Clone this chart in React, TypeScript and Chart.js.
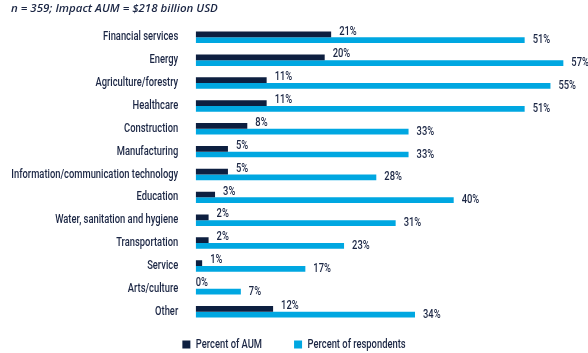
import React, { useEffect, useRef } from "react";
import { Chart, registerables } from "chart.js";

Chart.register(...registerables);

const categories = [
  "Financial services",
  "Energy",
  "Agriculture/forestry",
  "Healthcare",
  "Construction",
  "Manufacturing",
  "Information/communication technology",
  "Education",
  "Water, sanitation and hygiene",
  "Transportation",
  "Service",
  "Arts/culture",
  "Other",
];
const aumValues = [21, 20, 11, 11, 8, 5, 5, 3, 2, 2, 1, 0, 12];
const respondentValues = [51, 57, 55, 51, 33, 33, 28, 40, 31, 23, 17, 7, 34];
const seriesLabels = ["Percent of AUM", "Percent of respondents"];
const titleText = "n = 359; Impact AUM = $218 billion USD";

const DARK = "#0d1f40";
const LIGHT = "#00a7e1";
const TEXT = "#1b2644";
const FONT = `500 12.5px Roboto, "DejaVu Sans", sans-serif`;
const SX = 0.75; // horizontal condensing to mimic a condensed typeface

function drawText(ctx: any, text: string, x: number, y: number, align: "left" | "right") {
  ctx.save();
  ctx.translate(x, y);
  ctx.scale(SX, 1);
  ctx.textAlign = align;
  ctx.fillText(text, 0, 0);
  ctx.restore();
}

const valueLabelPlugin = {
  id: "valueLabels",
  afterDatasetsDraw(chart: any) {
    const ctx = chart.ctx;
    ctx.save();
    ctx.font = FONT;
    ctx.fillStyle = TEXT;
    ctx.textBaseline = "middle";
    chart.data.datasets.forEach((ds: any, di: number) => {
      const meta = chart.getDatasetMeta(di);
      meta.data.forEach((el: any, i: number) => {
        const v = ds.data[i];
        const dx = v > 0 ? 8 : 0;
        const dy = di === 0 ? -3 : 0;
        drawText(ctx, `${v}%`, el.x + dx, el.y + dy, "left");
      });
    });
    ctx.restore();
  },
};

const categoryLabelPlugin = {
  id: "categoryLabels",
  afterDraw(chart: any) {
    const ctx = chart.ctx;
    const yScale = chart.scales.y;
    ctx.save();
    ctx.font = FONT;
    ctx.fillStyle = TEXT;
    ctx.textBaseline = "middle";
    const xRight = chart.chartArea.left - 17.5;
    chart.data.labels.forEach((lab: string, i: number) => {
      drawText(ctx, lab, xRight, yScale.getPixelForValue(i), "right");
    });
    ctx.restore();
  },
};

const titleLegendPlugin = {
  id: "titleLegend",
  afterDraw(chart: any) {
    const ctx = chart.ctx;
    ctx.save();
    ctx.font = `italic 600 11.5px "Open Sans", sans-serif`;
    ctx.fillStyle = TEXT;
    ctx.textBaseline = "middle";
    ctx.textAlign = "left";
    ctx.fillText(titleText, 11, 8.5);

    ctx.font = FONT;
    const box = 8;
    const gapText = 5.5;
    const gapItem = 32;
    const widths = chart.data.datasets.map(
      (d: any) => box + gapText + ctx.measureText(d.label).width * SX
    );
    const total =
      widths.reduce((a: number, b: number) => a + b, 0) + gapItem * (widths.length - 1);
    let x = chart.width / 2 - total / 2;
    const cy = 344.5;
    chart.data.datasets.forEach((d: any, i: number) => {
      ctx.fillStyle = d.backgroundColor;
      ctx.fillRect(x, cy - box / 2, box, box);
      ctx.fillStyle = TEXT;
      drawText(ctx, d.label, x + box + gapText, cy, "left");
      x += widths[i] + gapItem;
    });
    ctx.restore();
  },
};

export default function App() {
  const ref = useRef<HTMLCanvasElement>(null);

  useEffect(() => {
    if (!ref.current) return;
    const chart = new Chart(ref.current, {
      type: "bar",
      data: {
        labels: categories,
        datasets: [
          {
            label: seriesLabels[0],
            data: aumValues,
            backgroundColor: DARK,
            categoryPercentage: 0.5,
            barPercentage: 1.0,
          },
          {
            label: seriesLabels[1],
            data: respondentValues,
            backgroundColor: LIGHT,
            categoryPercentage: 0.5,
            barPercentage: 1.0,
          },
        ],
      },
      options: {
        indexAxis: "y",
        animation: false,
        responsive: true,
        maintainAspectRatio: false,
        layout: { padding: { top: 25.9, bottom: 29.9, left: 0, right: 5.3 } },
        plugins: {
          legend: { display: false },
          title: { display: false },
          tooltip: { enabled: false },
        },
        scales: {
          x: { display: false, min: 0, max: 60 },
          y: {
            grid: { display: false, drawTicks: false },
            border: { display: false },
            ticks: { display: false },
            afterFit: (scale: any) => {
              scale.width = 195.7;
            },
          },
        },
      },
      plugins: [valueLabelPlugin, categoryLabelPlugin, titleLegendPlugin],
    });
    return () => chart.destroy();
  }, []);

  return (
    <div style={{ position: "fixed", left: 0, top: 0, width: 588, height: 353, background: "#ffffff" }}>
      <canvas ref={ref} />
    </div>
  );
}
